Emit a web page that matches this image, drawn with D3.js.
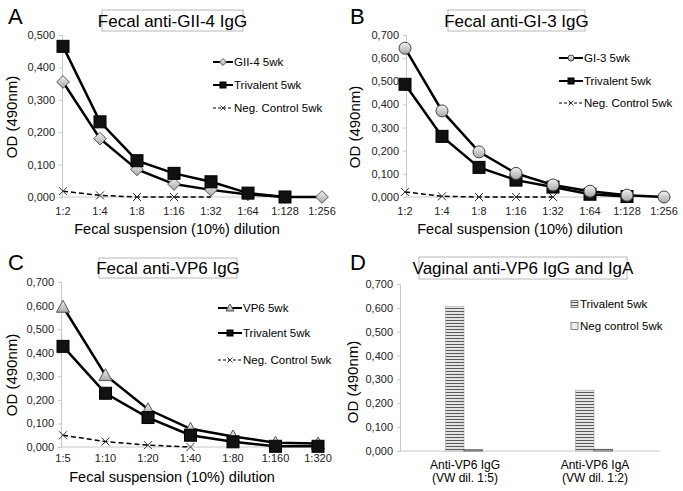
<!DOCTYPE html>
<html><head><meta charset="utf-8">
<script src="https://cdn.jsdelivr.net/npm/d3@7"></script>
<style>body{margin:0;background:#fff}svg{display:block}text{font-family:"Liberation Sans",Arial,sans-serif}</style>
</head><body><svg id="c" width="683" height="491"></svg>
<script>
// ---- data ----
const catsAB = ["1:2","1:4","1:8","1:16","1:32","1:64","1:128","1:256"];
const catsC = ["1:5","1:10","1:20","1:40","1:80","1:160","1:320"];
const catsD = ["Anti-VP6 IgG|(VW dil. 1:5)","Anti-VP6 IgA|(VW dil. 1:2)"];
const yTicksA = [0,0.1,0.2,0.3,0.4,0.5];
const yTicks7 = [0,0.1,0.2,0.3,0.4,0.5,0.6,0.7];

const aGII4 = [0.355,0.180,0.085,0.040,0.022,0.008,0.000,0.000];
const aTri  = [0.465,0.232,0.112,0.073,0.047,0.012,0.000];
const aNeg  = [0.018,0.005,0.000,0.000,0.000];

const bGI3 = [0.643,0.372,0.195,0.102,0.052,0.025,0.008,0.000];
const bTri = [0.487,0.262,0.128,0.073,0.043,0.012,0.002];
const bNeg = [0.022,0.003,0.000,0.000,0.000];

const cVP6 = [0.595,0.305,0.160,0.077,0.045,0.018,0.015];
const cTri = [0.427,0.228,0.125,0.050,0.022,0.003,0.003];
const cNeg = [0.050,0.023,0.008,0.000];

const dTri = [0.605,0.255];
const dNeg = [0.005,0.007];

const svg = d3.select("#c");
const defs = svg.append("defs");
const g1 = defs.append("linearGradient").attr("id","gr").attr("x1","0").attr("y1","0").attr("x2","0").attr("y2","1");
g1.append("stop").attr("offset","0").attr("stop-color","#f2f2f2");
g1.append("stop").attr("offset","1").attr("stop-color","#a8a8a8");
const pat = defs.append("pattern").attr("id","stripe").attr("patternUnits","userSpaceOnUse").attr("width",4).attr("height",3);
pat.append("rect").attr("width",4).attr("height",3).attr("fill","#e4e4e4");
pat.append("rect").attr("y",2).attr("width",4).attr("height",1).attr("fill","#5a5a5a");
const pat2 = defs.append("pattern").attr("id","stripe2").attr("patternUnits","userSpaceOnUse").attr("width",4).attr("height",2);
pat2.append("rect").attr("width",4).attr("height",2).attr("fill","#ddd");
pat2.append("rect").attr("y",1).attr("width",4).attr("height",1).attr("fill","#888");

const fmt = v => d3.format(".3f")(v).replace(".",",");

function frame(o){
  svg.append("text").attr("x",o.lx).attr("y",o.ly).attr("font-size",22).text(o.letter);
  svg.append("rect").attr("x",o.tb[0]).attr("y",o.tb[1]).attr("width",o.tb[2]-o.tb[0]).attr("height",o.tb[3]-o.tb[1])
    .attr("fill","#fff").attr("stroke","#b8b8b8");
  svg.append("text").attr("x",(o.tb[0]+o.tb[2])/2).attr("y",(o.tb[1]+o.tb[3])/2+6).attr("text-anchor","middle")
    .attr("font-size",17).text(o.title);
  const ya = svg.append("g").attr("transform",`translate(${o.ax},0)`)
    .call(d3.axisLeft(o.y).tickValues(o.yt).tickFormat(fmt).tickSize(3).tickPadding(4));
  ya.select(".domain").attr("stroke","#c8c8c8");
  ya.selectAll(".tick line").attr("stroke","#c8c8c8");
  ya.selectAll("text").attr("font-size",11).attr("fill","#222");
  svg.append("line").attr("x1",o.ax).attr("x2",o.axEnd).attr("y1",o.y(0)).attr("y2",o.y(0)).attr("stroke","#c8c8c8");
  svg.append("text").attr("transform",`translate(${o.ytx},${o.yty}) rotate(-90)`).attr("text-anchor","middle")
    .attr("font-size",15).text("OD (490nm)");
  if(o.xt) svg.append("text").attr("x",o.xtx).attr("y",o.xty).attr("text-anchor","middle").attr("font-size",14.5).text(o.xt);
}

function marker(sel, type, x, y, s){
  if(type==="square") sel.append("rect").attr("x",x-s/2).attr("y",y-s/2).attr("width",s).attr("height",s).attr("fill","#111").attr("stroke","#000");
  else if(type==="diamond") sel.append("path").attr("d",`M${x},${y-s/2*1.15}L${x+s/2*1.15},${y}L${x},${y+s/2*1.15}L${x-s/2*1.15},${y}Z`).attr("fill","url(#gr)").attr("stroke","#555").attr("stroke-width",1);
  else if(type==="circle") sel.append("circle").attr("cx",x).attr("cy",y).attr("r",s/2).attr("fill","url(#gr)").attr("stroke","#444");
  else if(type==="triangle") sel.append("path").attr("d",`M${x},${y-s/2-1}L${x+s/2+1},${y+s/2}L${x-s/2-1},${y+s/2}Z`).attr("fill","url(#gr)").attr("stroke","#555");
  else if(type==="x"){ const h=s/2; sel.append("path").attr("d",`M${x-h},${y-h}L${x+h},${y+h}M${x-h},${y+h}L${x+h},${y-h}`).attr("stroke","#333").attr("stroke-width",1);}
}

function lineSeries(x, y, cats, vals, type, size, dashed, markerCount){
  const pts = vals.map((v,i)=>[x(cats[i]), y(v)]);
  svg.append("path").attr("d",d3.line()(pts)).attr("fill","none").attr("stroke","#000")
    .attr("stroke-width",dashed?1.5:2.5).attr("stroke-dasharray",dashed?"5,3":null);
  const g = svg.append("g");
  const n = markerCount==null?pts.length:markerCount;
  pts.slice(0,n).forEach(p=>marker(g,type,p[0],p[1],size));
}

function legend(x0,x1,rows){
  rows.forEach(r=>{
    svg.append("line").attr("x1",x0).attr("x2",x1).attr("y1",r.y).attr("y2",r.y).attr("stroke","#000")
      .attr("stroke-width",r.dashed?1.2:2).attr("stroke-dasharray",r.dashed?"3,2":null);
    marker(svg,r.type,(x0+x1)/2,r.y,r.type==="x"?5:6);
    svg.append("text").attr("x",x1+1).attr("y",r.y+4).attr("font-size",11.5).text(r.label);
  });
}

function xLabels(x, cats, y){
  cats.forEach(c=>svg.append("text").attr("x",x(c)).attr("y",y).attr("text-anchor","middle").attr("font-size",11).attr("fill","#222").text(c));
}

// ---- Panel A ----
{
  const x = d3.scalePoint().domain(catsAB).range([63,322]);
  const y = d3.scaleLinear().domain([0,0.5]).range([197,35]);
  frame({letter:"A",lx:8,ly:24,tb:[102,10,243,31],title:"Fecal anti-GII-4 IgG",ax:62,axEnd:324,y,yt:yTicksA,
    ytx:17,yty:117,xt:"Fecal suspension (10%) dilution",xtx:177,xty:234});
  xLabels(x,catsAB,215);
  lineSeries(x,y,catsAB,aNeg,"x",8,true,4);
  lineSeries(x,y,catsAB,aGII4,"diamond",11,false);
  lineSeries(x,y,catsAB,aTri,"square",12,false);
  legend(213,233,[{y:62,type:"diamond",label:"GII-4 5wk"},{y:85,type:"square",label:"Trivalent 5wk"},{y:108,type:"x",dashed:true,label:"Neg. Control 5wk"}]);
}
// ---- Panel B ----
{
  const x = d3.scalePoint().domain(catsAB).range([405,664]);
  const y = d3.scaleLinear().domain([0,0.7]).range([197,35]);
  frame({letter:"B",lx:350,ly:24,tb:[448,10,585,31],title:"Fecal anti-GI-3 IgG",ax:406,axEnd:666,y,yt:yTicks7,
    ytx:360,yty:127,xt:"Fecal suspension (10%) dilution",xtx:520,xty:234});
  xLabels(x,catsAB,215);
  lineSeries(x,y,catsAB,bNeg,"x",8,true);
  lineSeries(x,y,catsAB,bTri,"square",12,false);
  lineSeries(x,y,catsAB,bGI3,"circle",12,false);
  legend(559,583,[{y:58,type:"circle",label:"GI-3 5wk"},{y:81,type:"square",label:"Trivalent 5wk"},{y:103,type:"x",dashed:true,label:"Neg. Control 5wk"}]);
}
// ---- Panel C ----
{
  const x = d3.scalePoint().domain(catsC).range([63,318]);
  const y = d3.scaleLinear().domain([0,0.7]).range([447,282]);
  frame({letter:"C",lx:8,ly:270,tb:[99,258,237,278],title:"Fecal anti-VP6 IgG",ax:61,axEnd:322,y,yt:yTicks7,
    ytx:17,yty:375,xt:"Fecal suspension (10%) dilution",xtx:172,xty:482});
  xLabels(x,catsC,462);
  lineSeries(x,y,catsC,cNeg,"x",8,true);
  lineSeries(x,y,catsC,cVP6,"triangle",11,false);
  lineSeries(x,y,catsC,cTri,"square",12,false);
  legend(218,242,[{y:308,type:"triangle",label:"VP6 5wk"},{y:333,type:"square",label:"Trivalent 5wk"},{y:360,type:"x",dashed:true,label:"Neg. Control 5wk"}]);
}
// ---- Panel D ----
{
  const labels = catsD;
  const x = d3.scaleBand().domain(labels).range([400,660]);
  const y = d3.scaleLinear().domain([0,0.7]).range([451,284]);
  frame({letter:"D",lx:350,ly:270,tb:[419,257,627,279],title:"Vaginal anti-VP6 IgG and IgA",ax:400,axEnd:660,y,yt:yTicks7,
    ytx:358,yty:382});
  const bw = 18.5;
  labels.forEach((c,i)=>{
    const cx = x(c)+x.bandwidth()/2;
    svg.append("rect").attr("x",cx-bw-1).attr("y",y(dTri[i])).attr("width",bw).attr("height",y(0)-y(dTri[i])).attr("fill","url(#stripe)").attr("stroke","#999").attr("stroke-width",0.5);
    svg.append("rect").attr("x",cx-1).attr("y",y(dNeg[i])).attr("width",bw).attr("height",y(0)-y(dNeg[i])).attr("fill","url(#stripe2)").attr("stroke","#444").attr("stroke-width",0.8);
    const parts = c.split("|");
    parts.forEach((p,j)=>svg.append("text").attr("x",cx).attr("y",469+j*12.5).attr("text-anchor","middle").attr("font-size",12).text(p));
  });
  [{y:304,fill:"url(#stripe)",label:"Trivalent 5wk"},{y:326,fill:"#eee",label:"Neg control 5wk"}].forEach(r=>{
    svg.append("rect").attr("x",571).attr("y",r.y-3.5).attr("width",7).attr("height",7).attr("fill",r.fill).attr("stroke","#555").attr("stroke-width",0.7);
    svg.append("text").attr("x",580).attr("y",r.y+4).attr("font-size",11.5).text(r.label);
  });
}
</script></body></html>
